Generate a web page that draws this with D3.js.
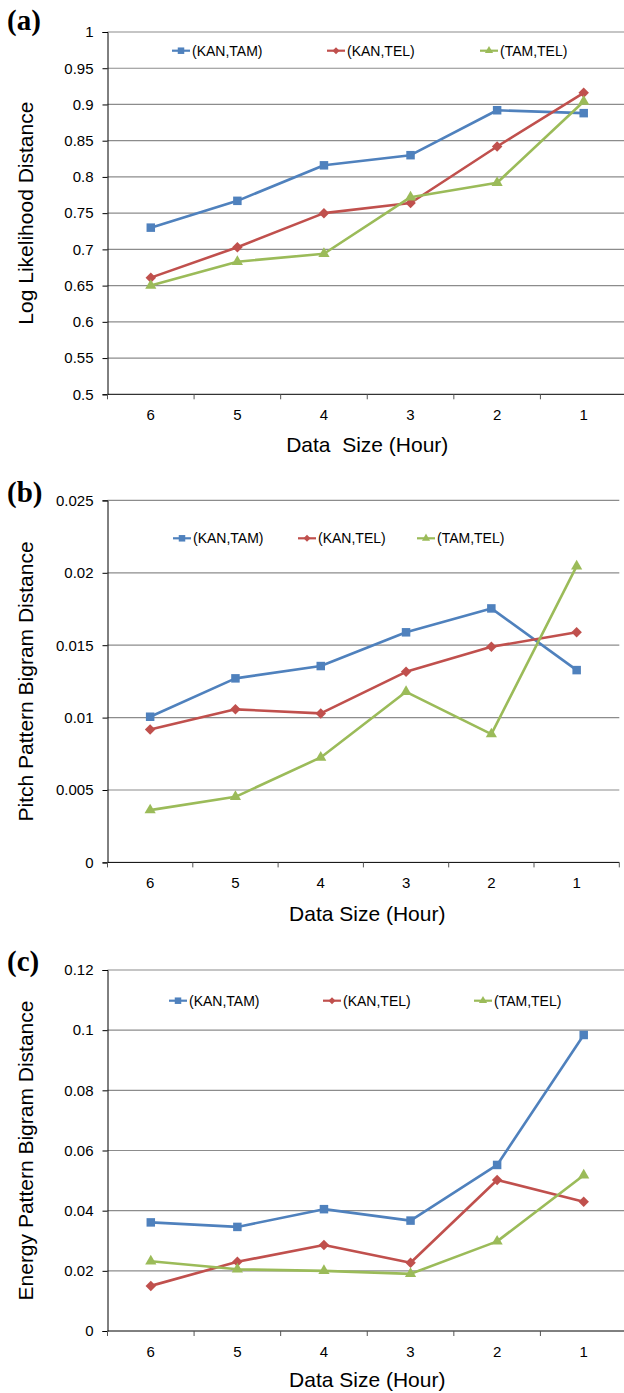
<!DOCTYPE html>
<html>
<head>
<meta charset="utf-8">
<script src="https://cdn.jsdelivr.net/npm/d3@7"></script>
<style>
  body { margin: 0; background: #fff; }
  svg text { font-family: "Liberation Sans", Arial, sans-serif; fill: #000; }
</style>
</head>
<body>
<script>
// categories (x axis)
var categories = ['6', '5', '4', '3', '2', '1']
var seriesNames = ['(KAN,TAM)', '(KAN,TEL)', '(TAM,TEL)']
var seriesColors = ['#4f81bd', '#c0504d', '#9bbb59']
var seriesShapes = ['square', 'diamond', 'triangle']

// (a) log likelihood distance
var llKanTam = [0.730, 0.767, 0.816, 0.830, 0.892, 0.888]
var llKanTel = [0.661, 0.703, 0.750, 0.764, 0.842, 0.916]
var llTamTel = [0.650, 0.683, 0.694, 0.772, 0.792, 0.904]
var llTicks = [0.5, 0.55, 0.6, 0.65, 0.7, 0.75, 0.8, 0.85, 0.9, 0.95, 1]

// (b) pitch pattern bigram distance
var pbKanTam = [0.01006, 0.01271, 0.01356, 0.01589, 0.01754, 0.01328]
var pbKanTel = [0.00918, 0.01057, 0.01029, 0.01316, 0.01489, 0.01589]
var pbTamTel = [0.00361, 0.00453, 0.00725, 0.01178, 0.00886, 0.02046]
var pbTicks = [0, 0.005, 0.01, 0.015, 0.02, 0.025]

// (c) energy pattern bigram distance
var ebKanTam = [0.0361, 0.0346, 0.0405, 0.0367, 0.0552, 0.0984]
var ebKanTel = [0.0150, 0.0230, 0.0286, 0.0227, 0.0502, 0.0430]
var ebTamTel = [0.0232, 0.0205, 0.0200, 0.0190, 0.0298, 0.0518]
var ebTicks = [0, 0.02, 0.04, 0.06, 0.08, 0.1, 0.12]

var svg = d3.select(document.body).append('svg')
  .attr('width', 624)
  .attr('height', 1393)

svg.append('rect').attr('width', 624).attr('height', 1393).attr('fill', '#fff')

function fmt (d) {
  return String(+d.toFixed(4))
}

function marker (g, shape, color, s) {
  var sym
  if (shape == 'square') sym = d3.symbol(d3.symbolSquare, s * s)
  else if (shape == 'diamond') sym = null
  else sym = d3.symbol(d3.symbolTriangle, s * s * 0.45)
  if (sym) {
    g.append('path').attr('d', sym()).attr('fill', color)
  } else {
    var h = s / 2
    g.append('path').attr('d', 'M0,' + (-h) + 'L' + h + ',0L0,' + h + 'L' + (-h) + ',0Z').attr('fill', color)
  }
}

function panel (p) {
  var g = svg.append('g')
  var y = d3.scaleLinear().domain(d3.extent(p.ticks)).range([p.bottom, p.top])
  var x = d3.scaleBand().domain(categories).range([p.left, p.right])
  var cx = function (d) { return x(d) + x.bandwidth() / 2 }

  // gridlines
  g.selectAll('line.grid').data(p.ticks.slice(1)).enter().append('line')
    .attr('x1', p.left).attr('x2', p.right)
    .attr('y1', function (d) { return y(d) }).attr('y2', function (d) { return y(d) })
    .attr('stroke', '#8c8c8c').attr('stroke-width', 1.2)

  // y axis
  var ya = g.append('g').attr('transform', 'translate(' + p.left + ',0)')
    .call(d3.axisLeft(y).tickValues(p.ticks).tickFormat(fmt).tickSize(5).tickPadding(9))
  ya.select('.domain').attr('stroke', '#000')
  ya.selectAll('text').attr('font-size', 15).attr('font-family', '"Liberation Sans", Arial, sans-serif')

  // x axis
  g.append('line').attr('x1', p.left).attr('x2', p.right)
    .attr('y1', p.bottom).attr('y2', p.bottom).attr('stroke', '#000')
  g.selectAll('line.xt').data(categories.concat(['end'])).enter().append('line')
    .attr('x1', function (d, i) { return p.left + i * x.bandwidth() })
    .attr('x2', function (d, i) { return p.left + i * x.bandwidth() })
    .attr('y1', p.bottom).attr('y2', p.bottom + 5)
    .attr('stroke', '#555')
  g.selectAll('text.xl').data(categories).enter().append('text')
    .attr('x', cx).attr('y', p.bottom + 26)
    .attr('text-anchor', 'middle').attr('font-size', 15)
    .text(function (d) { return d })

  // titles
  g.append('text').attr('x', (p.left + 627) / 2).attr('y', p.xTitleY)
    .attr('text-anchor', 'middle').attr('font-size', 21)
    .attr('xml:space', 'preserve').style('white-space', 'pre')
    .text(p.xTitle)
  g.append('text')
    .attr('transform', 'translate(33,' + ((p.top + p.bottom) / 2) + ') rotate(-90)')
    .attr('text-anchor', 'middle').attr('font-size', 21)
    .text(p.yTitle)
  g.append('text').attr('x', 7).attr('y', p.labelY)
    .attr('font-family', '"Liberation Serif", "Times New Roman", serif')
    .style('font-family', '"Liberation Serif", "Times New Roman", serif')
    .attr('font-weight', 'bold').attr('font-size', 29)
    .text(p.label)

  // series
  p.series.forEach(function (vals, si) {
    var pts = vals.map(function (v, i) { return [cx(categories[i]), y(v)] })
    g.append('path').attr('d', d3.line()(pts))
      .attr('fill', 'none').attr('stroke', seriesColors[si]).attr('stroke-width', 2.6)
      .attr('stroke-linejoin', 'round')
    pts.forEach(function (pt) {
      var m = g.append('g').attr('transform', 'translate(' + pt[0] + ',' + pt[1] + ')')
      marker(m, seriesShapes[si], seriesColors[si], si == 0 ? 8.5 : (si == 1 ? 10.5 : 11))
    })
  })

  // legend
  seriesNames.forEach(function (name, si) {
    var lx = p.legendX[si]
    var lg = g.append('g').attr('transform', 'translate(' + lx + ',' + p.legendY + ')')
    lg.append('line').attr('x1', 0).attr('x2', 18).attr('stroke', seriesColors[si]).attr('stroke-width', 2.2)
    var m = lg.append('g').attr('transform', 'translate(9,0)')
    marker(m, seriesShapes[si], seriesColors[si], si == 0 ? 6.5 : (si == 1 ? 7 : 8))
    lg.append('text').attr('x', 20).attr('y', 5).attr('font-size', 14).text(name)
  })
}

panel({
  top: 32, bottom: 394.3, left: 107.5, right: 627,
  ticks: llTicks, series: [llKanTam, llKanTel, llTamTel],
  legendY: 50.7, legendX: [172, 327, 480],
  label: '(a)', labelY: 30,
  yTitle: 'Log Likelihood Distance', xTitle: 'Data  Size (Hour)', xTitleY: 452
})

panel({
  top: 500.4, bottom: 862.4, left: 107.5, right: 619.3,
  ticks: pbTicks, series: [pbKanTam, pbKanTel, pbTamTel],
  legendY: 538.3, legendX: [173, 298, 417],
  label: '(b)', labelY: 502,
  yTitle: 'Pitch Pattern Bigram Distance', xTitle: 'Data Size (Hour)', xTitleY: 921
})

panel({
  top: 970, bottom: 1331, left: 107.5, right: 627,
  ticks: ebTicks, series: [ebKanTam, ebKanTel, ebTamTel],
  legendY: 1000.7, legendX: [169, 323, 474],
  label: '(c)', labelY: 971,
  yTitle: 'Energy Pattern Bigram Distance', xTitle: 'Data Size (Hour)', xTitleY: 1387
})
</script>
</body>
</html>
